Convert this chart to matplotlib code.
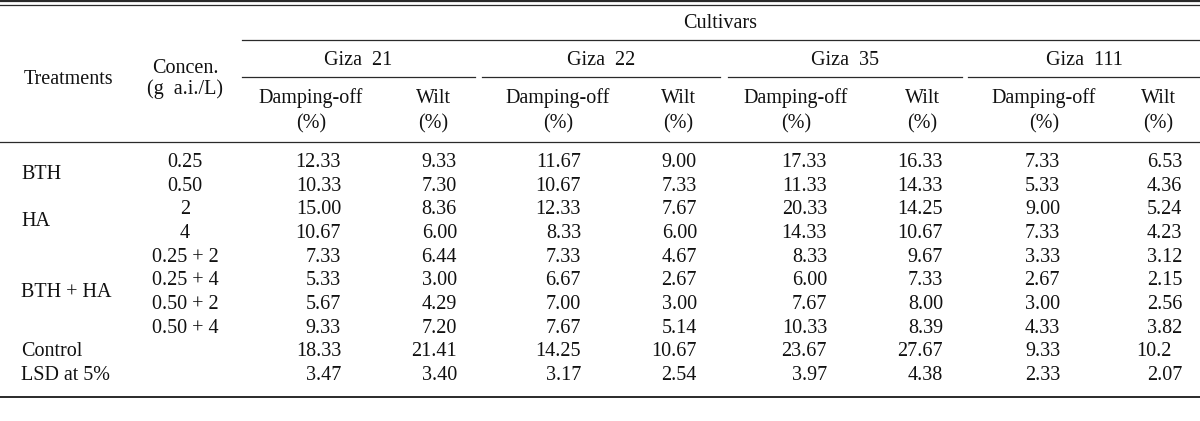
import matplotlib
matplotlib.use("Agg")
import matplotlib.pyplot as plt

plt.rcParams['font.family'] = ['Liberation Serif', 'DejaVu Serif']

# ---- data ----
treatments = ["BTH", "HA", "BTH + HA", "Control", "LSD at 5%"]
concentrations = ["0.25", "0.50", "2", "4", "0.25 + 2", "0.25 + 4", "0.50 + 2", "0.50 + 4", "", ""]
cultivars = ["Giza  21", "Giza  22", "Giza  35", "Giza  111"]

giza21_damping = ["12.33", "10.33", "15.00", "10.67", "7.33", "5.33", "5.67", "9.33", "18.33", "3.47"]
giza21_wilt    = ["9.33", "7.30", "8.36", "6.00", "6.44", "3.00", "4.29", "7.20", "21.41", "3.40"]
giza22_damping = ["11.67", "10.67", "12.33", "8.33", "7.33", "6.67", "7.00", "7.67", "14.25", "3.17"]
giza22_wilt    = ["9.00", "7.33", "7.67", "6.00", "4.67", "2.67", "3.00", "5.14", "10.67", "2.54"]
giza35_damping = ["17.33", "11.33", "20.33", "14.33", "8.33", "6.00", "7.67", "10.33", "23.67", "3.97"]
giza35_wilt    = ["16.33", "14.33", "14.25", "10.67", "9.67", "7.33", "8.00", "8.39", "27.67", "4.38"]
giza111_damping = ["7.33", "5.33", "9.00", "7.33", "3.33", "2.67", "3.00", "4.33", "9.33", "2.33"]
giza111_wilt    = ["6.53", "4.36", "5.24", "4.23", "3.12", "2.15", "2.56", "3.82", "10.2", "2.07"]

columns = [giza21_damping, giza21_wilt, giza22_damping, giza22_wilt,
           giza35_damping, giza35_wilt, giza111_damping, giza111_wilt]

# ---- layout ----
W, H = 1200, 421
fig = plt.figure(figsize=(12, 4.21), dpi=100)
ax = fig.add_axes([0, 0, 1, 1])
ax.set_xlim(0, W)
ax.set_ylim(H, 0)
ax.axis('off')

fs = 14.5
tc = '#111111'
lc = '#2a2a2a'
dy = 2.5

def T(x, y, s, ha='center', va='center'):
    ax.text(x, y + dy, s, ha=ha, va=va, fontsize=fs, color=tc)

# rules
ax.plot([0, W], [1.2, 1.2], color=lc, lw=1.6)
ax.plot([0, W], [4.6, 4.6], color=lc, lw=0.9)
ax.plot([242, W], [40, 40], color=lc, lw=0.9)
segs = [(242, 475), (482, 720), (728, 962), (968, W)]
for a, b in segs:
    ax.plot([a, b], [77, 77], color=lc, lw=0.9)
ax.plot([0, W], [142, 142], color=lc, lw=0.9)
ax.plot([0, W], [397, 397], color=lc, lw=1.4)

# headers
T(720, 21, "Cultivars")
for (a, b), name in zip(segs, cultivars):
    T((a + b) / 2, 58, name)
T(69, 77, "Treatments")
T(185, 66, "Concen.")
T(185, 87, "(g  a.i./L)")

damp_centers = [311, 558, 796, 1044]
wilt_centers = [433, 678, 922, 1158]
for dc, wc in zip(damp_centers, wilt_centers):
    T(dc, 96, "Damping-off")
    T(dc, 121, "(%)")
    T(wc, 96, "Wilt")
    T(wc, 121, "(%)")

# rows
row_y = [160, 184, 207, 231, 255, 278, 302, 326, 349, 373]
treat_y = [172, 219, 290, 349, 373]
for t, y in zip(treatments, treat_y):
    T(21, y, t, ha='left')
for c, y in zip(concentrations, row_y):
    if c:
        T(185, y, c)

right_edges = [341, 457, 581, 697, 827, 943, 1060, 1182]
digit_w = 0.5 * fs * 100 / 72
for col, r in zip(columns, right_edges):
    for v, y in zip(col, row_y):
        ndec = len(v.split('.')[1])
        T(r - (2 - ndec) * digit_w, y, v, ha='right')

fig.savefig("out.png", dpi=100)
